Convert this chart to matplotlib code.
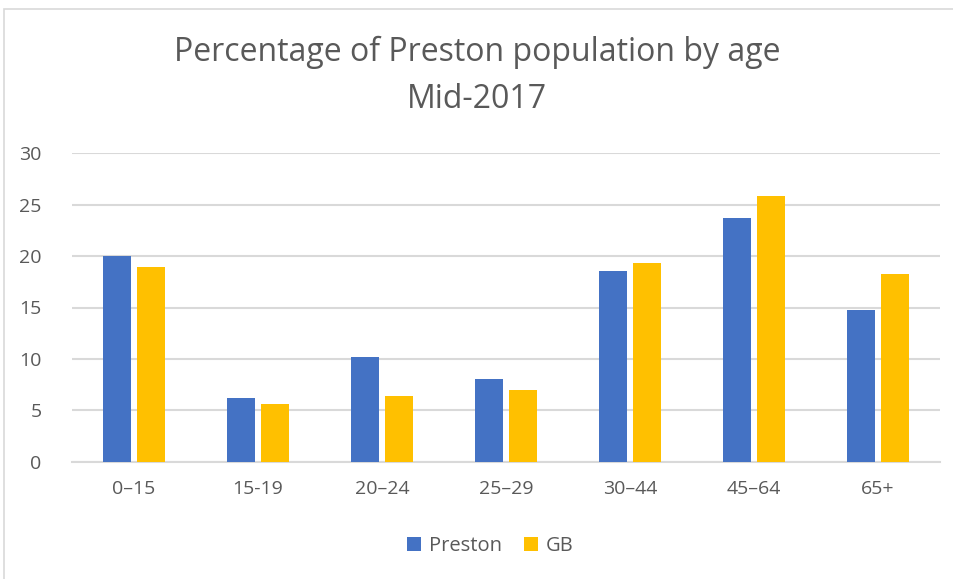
import matplotlib
matplotlib.use("Agg")
import matplotlib.pyplot as plt
from matplotlib.patches import Rectangle
import numpy as np

categories = ["0–15", "15-19", "20–24", "25–29", "30–44", "45–64", "65+"]
preston = [20.0, 6.2, 10.2, 8.05, 18.55, 23.7, 14.75]
gb = [18.95, 5.6, 6.4, 7.0, 19.3, 25.85, 18.25]
series_names = ["Preston", "GB"]
yticks = [0, 5, 10, 15, 20, 25, 30]
title = "Percentage of Preston population by age\nMid-2017"

plt.rcParams['font.family'] = ['Open Sans', 'DejaVu Sans']
txt = "#595959"
blue = "#4472C4"
gold = "#FFC000"

fig = plt.figure(figsize=(9.54, 5.79), dpi=100)
ax = fig.add_axes([72/954, 1-461.7/579, (940-72)/954, (461.7-153.3)/579])

x = np.arange(len(categories))
w = 0.226
off = 0.141
ax.bar(x - off, preston, w, color=blue, label=series_names[0], zorder=3)
ax.bar(x + off, gb, w, color=gold, label=series_names[1], zorder=3)

ax.set_xlim(-0.5, len(categories) - 0.5)
ax.set_ylim(0, 30)
ax.set_yticks(yticks)
ax.set_xticks(x)
ax.set_xticklabels(categories)
ax.grid(axis='y', color='#D9D9D9', linewidth=1.5, zorder=0)
ax.set_axisbelow(True)
for s in ['top', 'right', 'left']:
    ax.spines[s].set_visible(False)
ax.spines['bottom'].set_color('#D9D9D9')
ax.spines['bottom'].set_linewidth(1.5)
ax.tick_params(axis='both', length=0, labelsize=14, colors=txt)
ax.tick_params(axis='y', pad=22)
ax.tick_params(axis='x', pad=13)

lines = title.split("\n")
fig.text(0.5, 1-52/579, lines[0], ha='center', va='center', fontsize=23, color=txt)
fig.text(0.5, 1-100/579, lines[1], ha='center', va='center', fontsize=23, color=txt)

leg = fig.legend(loc='center', bbox_to_anchor=(0.514, 1-546/579), ncol=2, frameon=False,
                 fontsize=14.5, handlelength=0.7, handleheight=0.7, handletextpad=0.4,
                 columnspacing=1.1, labelcolor=txt)

fig.patches.append(Rectangle((4/954, -0.05), 1.2, 1-9/579+0.05, transform=fig.transFigure,
                             fill=False, edgecolor='#D9D9D9', linewidth=1.2))

fig.savefig("out.png", dpi=100)
